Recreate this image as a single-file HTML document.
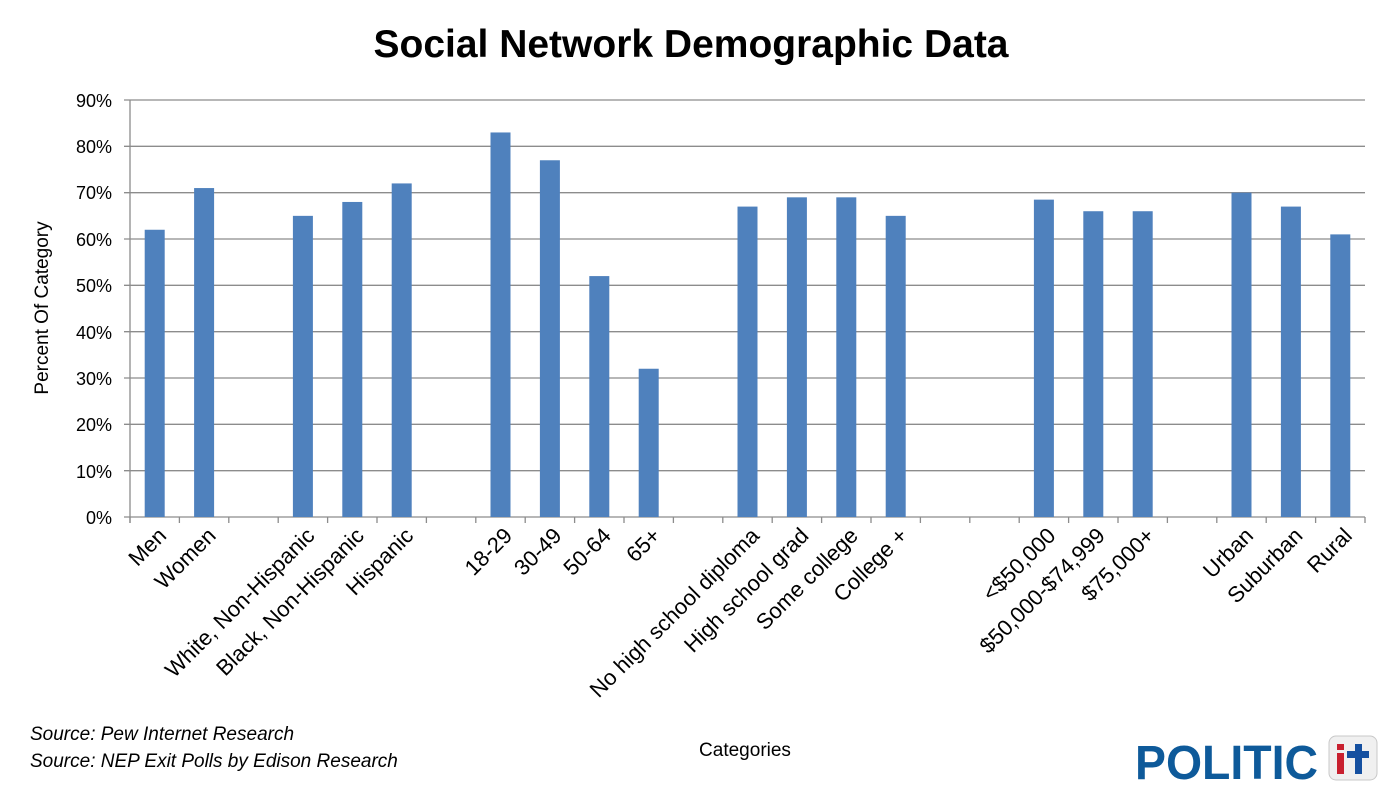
<!DOCTYPE html>
<html><head><meta charset="utf-8"><style>
html,body{margin:0;padding:0;background:#fff;}
svg{display:block;font-family:"Liberation Sans","DejaVu Sans",sans-serif;}
</style></head><body>
<svg width="1382" height="807" viewBox="0 0 1382 807" xmlns="http://www.w3.org/2000/svg">
<text x="691" y="57" text-anchor="middle" font-size="39" font-weight="bold" fill="#000">Social Network Demographic Data</text>
<g stroke="#8c8c8c" stroke-width="1.3">
<line x1="124" y1="100" x2="1365" y2="100"/>
<line x1="124" y1="146.3" x2="1365" y2="146.3"/>
<line x1="124" y1="192.7" x2="1365" y2="192.7"/>
<line x1="124" y1="239" x2="1365" y2="239"/>
<line x1="124" y1="285.3" x2="1365" y2="285.3"/>
<line x1="124" y1="331.7" x2="1365" y2="331.7"/>
<line x1="124" y1="378" x2="1365" y2="378"/>
<line x1="124" y1="424.3" x2="1365" y2="424.3"/>
<line x1="124" y1="470.7" x2="1365" y2="470.7"/>
<line x1="124" y1="517" x2="1365" y2="517"/>
<line x1="130" y1="100" x2="130" y2="523"/>
</g>
<g font-size="18" fill="#000" text-anchor="end">
<text x="112" y="107">90%</text><text x="112" y="153">80%</text><text x="112" y="199">70%</text>
<text x="112" y="246">60%</text><text x="112" y="292">50%</text><text x="112" y="339">40%</text>
<text x="112" y="385">30%</text><text x="112" y="431">20%</text><text x="112" y="478">10%</text>
<text x="112" y="524">0%</text>
</g>
<text transform="translate(48,308) rotate(-90)" text-anchor="middle" font-size="19">Percent Of Category</text>
<g id="ticks" stroke="#8c8c8c" stroke-width="1.3"></g>
<g id="bars" fill="#4f81bd"></g>
<g id="labels" font-size="22" text-anchor="end"></g>
<text x="745" y="756" text-anchor="middle" font-size="19">Categories</text>
<text x="30" y="740" font-size="19" font-style="italic">Source: Pew Internet Research</text>
<text x="30" y="767" font-size="19" font-style="italic">Source: NEP Exit Polls by Edison Research</text>
<text x="1135" y="779" font-size="48" font-weight="bold" fill="#0e5a9a" textLength="183" lengthAdjust="spacingAndGlyphs">POLITIC</text>
<rect x="1329" y="736" width="48" height="44" rx="7" fill="#f0f0f0" stroke="#c8c8c8"/>
<rect x="1337" y="744" width="7" height="6" fill="#c8202f"/>
<rect x="1337" y="753" width="7" height="21" fill="#c8202f"/>
<rect x="1355" y="744" width="7" height="30" fill="#1550a0"/>
<rect x="1347" y="751" width="22" height="7" fill="#1550a0"/>
<script>
var vals=[62,71,null,65,68,72,null,83,77,52,32,null,67,69,69,65,null,null,68.5,66,66,null,70,67,61];
var labs=["Men","Women","","White, Non-Hispanic","Black, Non-Hispanic","Hispanic","","18-29","30-49","50-64","65+","","No high school diploma","High school grad","Some college","College +","","","<$50,000","$50,000-$74,999","$75,000+","","Urban","Suburban","Rural"];
var w=1235/25,ns="http://www.w3.org/2000/svg";
function el(t,a,p){var e=document.createElementNS(ns,t);for(var k in a)e.setAttribute(k,a[k]);document.getElementById(p).appendChild(e);return e;}
for(var i=0;i<=25;i++){var x=130+i*w;el("line",{x1:x,y1:517,x2:x,y2:523},"ticks");}
for(var i=0;i<25;i++){var c=130+(i+0.5)*w;
if(vals[i]!=null){var h=vals[i]*4.633;el("rect",{x:c-10,y:517-h,width:20,height:h},"bars");}
if(labs[i]){var t=el("text",{transform:"translate("+(c+13)+",537) rotate(-45)"},"labels");t.textContent=labs[i];}}
</script>
</svg>
</body></html>
